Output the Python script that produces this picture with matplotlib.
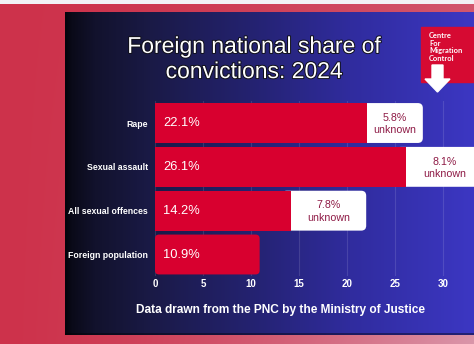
import numpy as np
import matplotlib
matplotlib.use("Agg")
import matplotlib.pyplot as plt
from matplotlib.patches import FancyBboxPatch, Rectangle, Polygon
import matplotlib.patheffects as pe

# ---- data -------------------------------------------------------------
categories = ["Rape", "Sexual assault", "All sexual offences", "Foreign population"]
share = [22.1, 26.1, 14.2, 10.9]          # foreign national share, %
unknown = [5.8, 8.1, 7.8, None]           # nationality unknown, %
xticks = [0, 5, 10, 15, 20, 25, 30]

title = "Foreign national share of\nconvictions: 2024"
source = "Data drawn from the PNC by the Ministry of Justice"
logo_lines = ["Centre", "For", "Migration", "Control"]

# ---- figure -----------------------------------------------------------
W, H, DPI = 474, 344, 100
fig = plt.figure(figsize=(W / DPI, H / DPI), dpi=DPI)

FONT = ["Liberation Sans", "DejaVu Sans"]
BAR_RED = "#d8002f"
BOX_TEXT = "#8e1a45"

# background canvas in pixel units
bg = fig.add_axes([0, 0, 1, 1])
bg.axis("off")
yy, xx = np.mgrid[0:H, 0:W].astype(float)
red = np.array([205, 50, 75]) / 255
pink = np.array([218, 150, 170]) / 255
t = np.clip((xx / W) ** 1.5 * (0.35 + 0.65 * yy / H), 0, 1)[..., None]
img = red * (1 - t) + pink * t
img[:4] = [0.95, 0.95, 0.965]

stops_x = [65, 72, 95, 150, 250, 350, 474]
stops_c = np.array([[4, 4, 12], [10, 10, 25], [18, 18, 45], [26, 26, 70],
                    [36, 34, 112], [48, 44, 158], [60, 55, 195]]) / 255
cols = np.arange(W)
panel_row = np.stack([np.interp(cols, stops_x, stops_c[:, k]) for k in range(3)], axis=-1)
img[12:335, 65:] = panel_row[65:]
img[333:335, 65:] = panel_row[65:] * 0.6
bg.imshow(img, extent=[0, W, H, 0], aspect="auto", interpolation="bilinear")
bg.set_xlim(0, W)
bg.set_ylim(H, 0)

# title and source line
bg.text(254, 59, title, ha="center", va="center", fontsize=16.5, color="white",
        family=FONT, linespacing=1.12,
        path_effects=[pe.withStroke(linewidth=1.4, foreground="#101018")])
bg.text(281, 310, source, ha="center", va="center", fontsize=8.6, color="white",
        family=FONT, fontweight="bold")

# logo block with arrow
bg.add_patch(Rectangle((421, 27), 53, 55, color="#d60a32", zorder=2))
for k, line in enumerate(logo_lines):
    bg.text(429, 36 + 7.4 * k, line, ha="left", va="center", fontsize=5.4,
            color="white", fontweight="bold", family=["Lato", "DejaVu Sans"], zorder=3)
bg.add_patch(Polygon([(432, 65), (443, 65), (443, 79), (450, 79), (437.5, 92),
                      (425, 79), (432, 79)], closed=True, color="white", zorder=3))

# ---- bar chart --------------------------------------------------------
x0_px, px_per_x = 155, 9.6
top_px, px_per_y = 101.1, 43.83
n = len(categories)
ax = fig.add_axes([x0_px / W, 1 - (top_px + n * px_per_y) / H,
                   (W - x0_px) / W, n * px_per_y / H])
ax.set_facecolor("none")
ax.set_xlim(0, (W - x0_px) / px_per_x)
ax.set_ylim(n - 0.5, -0.5)

ypos = np.arange(n)
bar_h = 0.91


def rounded(rect, r_px, extend_left=0.0, **kw):
    rx, ry = r_px / px_per_x, r_px / px_per_y
    x, y = rect.get_x(), rect.get_y()
    w, h = rect.get_width(), rect.get_height()
    patch = FancyBboxPatch((x - extend_left, y), w + extend_left, h,
                           boxstyle=f"round,pad=0,rounding_size={rx}",
                           mutation_aspect=ry / rx, **kw)
    ax.add_patch(patch)
    rect.set_visible(False)
    return patch


# white "unknown" boxes
u_idx = [i for i, u in enumerate(unknown) if u is not None]
u_bars = ax.barh([ypos[i] for i in u_idx], [unknown[i] for i in u_idx],
                 left=[share[i] for i in u_idx], height=bar_h, color="white")
for rect in u_bars:
    rounded(rect, 5, extend_left=1.0, facecolor="white", edgecolor="none", zorder=3)

# red share bars
s_bars = ax.barh(ypos, share, height=bar_h, color=BAR_RED, zorder=4)
for i, rect in enumerate(s_bars):
    if unknown[i] is None:
        rounded(rect, 4, facecolor=BAR_RED, edgecolor="none", zorder=4)

for i, s in enumerate(share):
    ax.text(0.83, ypos[i], f"{s}%", ha="left", va="center", color="white",
            fontsize=9.3, family=FONT, zorder=5)
    if unknown[i] is not None:
        ax.text(s + unknown[i] / 2, ypos[i] + 0.02, f"{unknown[i]}%\nunknown",
                ha="center", va="center", color=BOX_TEXT, fontsize=7.7,
                family=FONT, linespacing=1.3, zorder=5)

ax.set_yticks(ypos)
ax.set_yticklabels(categories)
ax.set_xticks(xticks)
ax.set_xticklabels([str(v) for v in xticks])
ax.tick_params(axis="y", length=0, pad=5, labelsize=6.3, labelcolor="white")
ax.tick_params(axis="x", length=0, pad=1.5, labelsize=7.0, labelcolor="white")
for lab in ax.get_yticklabels() + ax.get_xticklabels():
    lab.set_fontweight("bold")
    lab.set_family(FONT)
for sp in ax.spines.values():
    sp.set_visible(False)
ax.grid(axis="x", color="white", alpha=0.12, linewidth=0.8)
ax.set_axisbelow(True)

fig.savefig("out.png", dpi=DPI)
